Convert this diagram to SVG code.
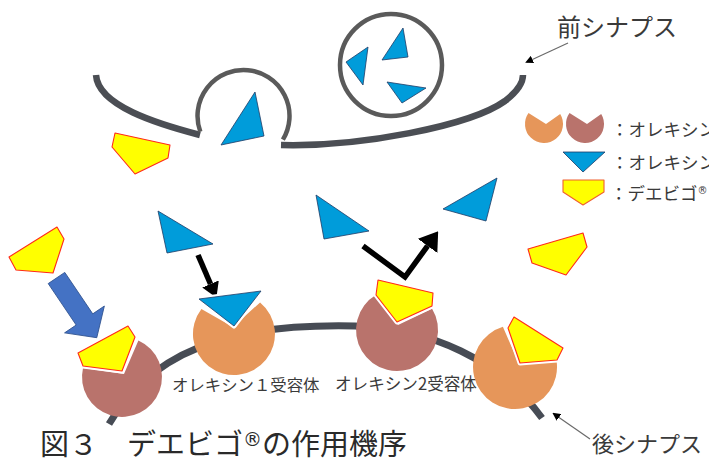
<svg xmlns="http://www.w3.org/2000/svg" width="709" height="459" viewBox="0 0 709 459">
  <style>
    .membrane { fill: none; stroke: #4b4e54; stroke-width: 6.5; }
    .post { fill: none; stroke: #474c55; stroke-width: 7; }
    .vesicle { fill: none; stroke: #5a5a5a; stroke-width: 4.5; }
    .orexin { fill: #009cda; stroke: #1f3b66; stroke-width: 0.8; stroke-linejoin: round; }
    .drug { fill: #ffff00; stroke: #ff2a1a; stroke-width: 1.1; stroke-linejoin: round; }
    .halo { fill: none; stroke: #ffffff; stroke-width: 5; stroke-linejoin: round; }
    .r1 { fill: #e6965a; }
    .r2 { fill: #b9736c; }
    .label { font-family: "Noto Sans CJK JP", sans-serif; fill: #3a3a3a; }
    .reg { font-family: "DejaVu Sans", sans-serif; }
    .pointer { fill: none; stroke: #6a6a6a; stroke-width: 1.2; }
    .push { fill: none; stroke: #000000; stroke-width: 5.5; stroke-linejoin: miter; }
  </style>
  <defs>
    <marker id="tip-small" viewBox="0 0 8 8" refX="6" refY="4" markerWidth="8" markerHeight="8" markerUnits="userSpaceOnUse" orient="auto">
      <path d="M0,0 L8,4 L0,8 Z" fill="#000"/>
    </marker>
    <marker id="tip-bold" viewBox="0 0 15 18" refX="0" refY="9" markerWidth="15" markerHeight="18" markerUnits="userSpaceOnUse" orient="auto">
      <path d="M0,0 L15,9 L0,18 Z" fill="#000"/>
    </marker>
    <marker id="tip-bent" viewBox="0 0 18 24" refX="0" refY="12" markerWidth="18" markerHeight="24" markerUnits="userSpaceOnUse" orient="auto">
      <path d="M0,0 L18,12 L0,24 Z" fill="#000"/>
    </marker>
  </defs>

  <!-- presynaptic membrane with a fusing vesicle -->
  <g id="presynapse">
    <path class="membrane" d="M96,75 C98,106 158,124 200,135"/>
    <path class="membrane" d="M281,145 C360,147 470,126 505,101 C518,91 523,83 523,75"/>
    <path class="vesicle" d="M200.3,131.7 A46,46 0 1 1 282.9,139.7"/>
    <polygon class="orexin" points="255,92 264,136 221,145"/>
  </g>

  <!-- storage vesicle -->
  <g id="vesicle">
    <circle class="vesicle" cx="391" cy="65" r="51"/>
    <polygon class="orexin" points="403,28 408,57 382,60"/>
    <polygon class="orexin" points="368,47 346,62 363,85"/>
    <polygon class="orexin" points="387,82 426,88 402,103"/>
  </g>

  <!-- postsynaptic membrane -->
  <g id="postsynapse">
    <path class="post" d="M109,424 C160,335 265,324 355,326 C430,328 500,360 542,418"/>
  </g>

  <!-- connectors -->
  <g id="connectors">
    <line class="pointer" x1="568" y1="43" x2="527" y2="62" marker-end="url(#tip-small)"/>
    <line class="pointer" x1="590" y1="439" x2="554" y2="414" marker-end="url(#tip-small)"/>
    <line class="push" x1="198" y1="255" x2="210.5" y2="284" marker-end="url(#tip-bold)"/>
    <polyline class="push" points="363,246 405,277 427.6,245.9" marker-end="url(#tip-bent)"/>
    <polygon id="drug-arrow" points="0,-10 50,-10 50,-24 72,0 50,24 50,10 0,10" fill="#4472c4" stroke="#2f528f" stroke-width="0.8" transform="translate(56.5,278) rotate(56)"/>
  </g>

  <!-- free ligands -->
  <g id="free-ligands">
    <polygon class="drug" points="115,133 170,145 168,158 135,174 112,147"/>
    <polygon class="drug" points="57,227 64,239 53,273 16,270 9,257"/>
    <polygon class="drug" points="583,233 587,247 566,275 532,263 528,249"/>
    <polygon class="orexin" points="158,211 213,244 167,253"/>
    <polygon class="orexin" points="316,195 369,231 324,239"/>
    <polygon class="orexin" points="497,178 486,221 443,209"/>
  </g>

  <!-- receptor A (left, blocked) -->
  <g id="receptor-a">
    <path class="r2" d="M83,368 L124,374 L138.4,340.5 A40,40 0 1 1 83,368 Z"/>
    <polygon class="halo" points="78,353 128,326 135,337 122,371 83,366"/>
    <polygon class="drug" points="78,353 128,326 135,337 122,371 83,366"/>
  </g>

  <!-- orexin 1 receptor -->
  <g id="receptor-ox1">
    <path class="r1" d="M201.4,309.1 L233,327 L260.1,302.4 A41,41 0 1 1 201.4,309.1 Z"/>
    <polygon class="halo" points="199,299 261,291 234,326"/>
    <polygon class="orexin" points="199,299 261,291 234,326"/>
    <text class="label" x="172" y="391" font-size="16.4">オレキシン１受容体</text>
  </g>

  <!-- orexin 2 receptor -->
  <g id="receptor-ox2">
    <path class="r2" d="M376.1,294.8 L398,325 L432.1,308.8 A41,41 0 1 1 376.1,294.8 Z"/>
    <polygon class="halo" points="378,280 433,293 432,306 397,322 376,295"/>
    <polygon class="drug" points="378,280 433,293 432,306 397,322 376,295"/>
    <text class="label" x="335" y="390" font-size="16.6">オレキシン2受容体</text>
  </g>

  <!-- receptor B (right, blocked) -->
  <g id="receptor-b">
    <path class="r1" d="M502.9,326.8 L519,364 L556.6,361.1 A42,42 0 1 1 502.9,326.8 Z"/>
    <polygon class="halo" points="514,317 563,348 557,360 520,363 508,328"/>
    <polygon class="drug" points="514,317 563,348 557,360 520,363 508,328"/>
  </g>

  <!-- labels -->
  <g id="label-pre">
    <text class="label" x="557" y="36" font-size="24">前シナプス</text>
  </g>
  <g id="label-post">
    <text class="label" x="592" y="452" font-size="22">後シナプス</text>
  </g>

  <!-- legend -->
  <g id="legend">
    <path class="r1" d="M528.5,113 L546,124 L560.2,114.1 A19,19 0 1 1 528.5,113 Z"/>
    <path class="r2" d="M569.5,113 L587,124 L601.2,114.1 A19,19 0 1 1 569.5,113 Z"/>
    <polygon class="orexin" points="563,152 605,152 583,172"/>
    <polygon class="drug" points="563,180 604,180 604,192 583,205 563,192" style="stroke:#f06030"/>
    <text class="label" x="611" y="136" font-size="17.5">：オレキシン</text>
    <text class="label" x="611" y="169" font-size="17.5">：オレキシン</text>
    <text class="label" x="610" y="200" font-size="17.5">：デエビゴ<tspan class="reg" font-size="10" dy="-6">®</tspan></text>
  </g>

  <!-- caption -->
  <g id="caption">
    <text class="label" x="40" y="455" font-size="29" style="fill:#2a2a2a">図３　デエビゴ<tspan class="reg" font-size="19" dy="-9">®</tspan><tspan dy="9">の作用機序</tspan></text>
  </g>
</svg>
